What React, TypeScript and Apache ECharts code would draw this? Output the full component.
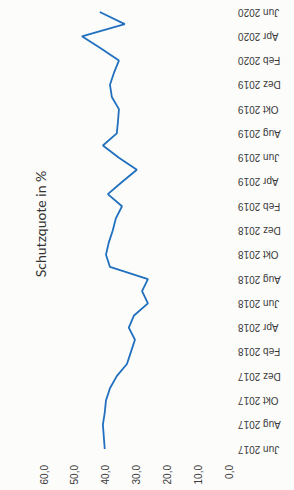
import React, { useEffect, useRef } from "react";
import * as echarts from "echarts";

const months: string[] = [
  "Jun 2017", "Jul 2017", "Aug 2017", "Sep 2017", "Okt 2017", "Nov 2017", "Dez 2017",
  "Jan 2018", "Feb 2018", "Mrz 2018", "Apr 2018", "Mai 2018", "Jun 2018", "Jul 2018",
  "Aug 2018", "Sep 2018", "Okt 2018", "Nov 2018", "Dez 2018",
  "Jan 2019", "Feb 2019", "Mrz 2019", "Apr 2019", "Mai 2019", "Jun 2019", "Jul 2019",
  "Aug 2019", "Sep 2019", "Okt 2019", "Nov 2019", "Dez 2019",
  "Jan 2020", "Feb 2020", "Mrz 2020", "Apr 2020", "Mai 2020", "Jun 2020",
];

const schutzquote: number[] = [
  40.3, 40.6, 40.9, 40.3, 39.9, 38.6, 36.4,
  33.1, 31.8, 30.5, 32.5, 30.8, 26.3, 28.2,
  26.3, 38.6, 39.9, 39.0, 37.7,
  36.7, 34.7, 39.3, 34.7, 29.9, 35.7, 40.9,
  36.4, 36.0, 35.7, 38.0, 38.6,
  37.3, 35.7, 41.5, 47.7, 33.8, 41.9,
];

const valueTicks = { min: 0, max: 60, interval: 10 };
const titleText = "Schutzquote in %";

export default function App() {
  const ref = useRef<HTMLDivElement>(null);
  useEffect(() => {
    if (!ref.current) return;
    const chart = echarts.init(ref.current, undefined, { renderer: "svg" });
    chart.setOption({
      animation: false,
      backgroundColor: "#fcfcfa",
      grid: { left: 44, right: 65, top: 12, bottom: 41, containLabel: false },
      xAxis: {
        type: "value",
        min: valueTicks.min,
        max: valueTicks.max,
        interval: valueTicks.interval,
        inverse: true,
        position: "bottom",
        axisLine: { show: false },
        axisTick: { show: false },
        splitLine: { show: false },
        axisLabel: {
          rotate: 90,
          margin: 16,
          fontSize: 10,
          fontFamily: "Liberation Sans, Arial, sans-serif",
          color: "#3a3a3a",
          formatter: (v: number) => v.toFixed(1).replace(".", ","),
        },
      },
      yAxis: {
        type: "category",
        data: months,
        position: "right",
        boundaryGap: false,
        axisLine: { show: false },
        axisTick: { show: false },
        splitLine: { show: false },
        axisLabel: {
          interval: 1,
          rotate: 180,
          margin: 9,
          fontSize: 10,
          fontFamily: "Liberation Sans, Arial, sans-serif",
          color: "#3a3a3a",
        },
      },
      graphic: [
        {
          type: "text",
          x: 40,
          y: 224,
          rotation: Math.PI / 2,
          style: {
            text: titleText,
            fontSize: 14,
            fontFamily: "Lato, Open Sans, sans-serif",
            fill: "#333",
            align: "center",
            verticalAlign: "middle",
          },
        },
      ],
      series: [
        {
          type: "line",
          data: schutzquote,
          symbol: "none",
          lineStyle: { color: "#2170bf", width: 1.8 },
        },
      ],
    });
    return () => chart.dispose();
  }, []);
  return (
    <div
      ref={ref}
      style={{ position: "fixed", left: 0, top: 0, width: 294, height: 490 }}
    />
  );
}
